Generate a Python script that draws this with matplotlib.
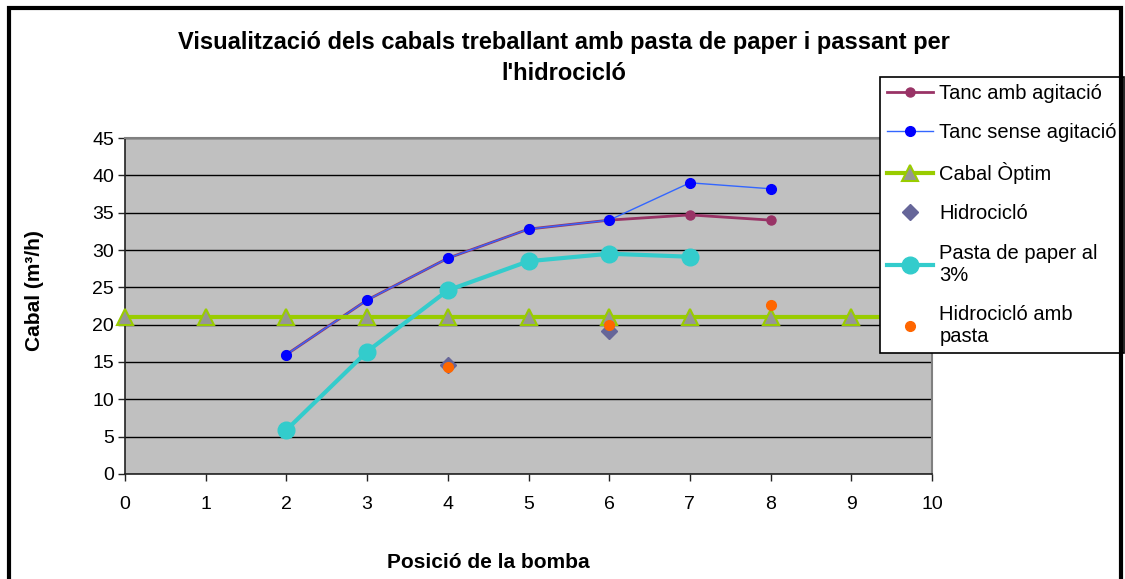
import matplotlib
matplotlib.use("Agg")
import matplotlib.pyplot as plt
from matplotlib.patches import Rectangle

plt.rcParams['font.family'] = ['Liberation Sans', 'DejaVu Sans']

# Pump position (x) and flow in m3/h (y)
x_tanc = [2, 3, 4, 5, 6, 7, 8]
tanc_amb_agitacio = [16.0, 23.3, 28.9, 32.8, 34.0, 34.7, 34.0]
tanc_sense_agitacio = [16.0, 23.3, 28.9, 32.8, 34.0, 39.0, 38.2]

x_optim = [0, 1, 2, 3, 4, 5, 6, 7, 8, 9, 10]
cabal_optim = [21] * len(x_optim)

x_hidro = [4, 6]
hidrociclo = [14.6, 19.1]

x_pasta = [2, 3, 4, 5, 6, 7]
pasta_paper = [5.9, 16.4, 24.6, 28.5, 29.5, 29.1]

x_hidro_pasta = [4, 6, 8]
hidrociclo_pasta = [14.3, 19.9, 22.7]

x_ticks = list(range(0, 11))
y_ticks = list(range(0, 50, 5))

W, H = 1125, 579
fig = plt.figure(figsize=(W / 100, H / 100), dpi=100)
fig.patch.set_facecolor('white')

# outer chart frame
fig.patches.append(Rectangle((9 / W, -0.1), (1121 - 9) / W, 1.1 - 8.5 / H,
                             transform=fig.transFigure, fill=False,
                             edgecolor='black', linewidth=3, zorder=0))

ax = fig.add_axes([125 / W, 1 - 474 / H, (932 - 125) / W, (474 - 138) / H])
ax.set_facecolor('#c0c0c0')
ax.set_xlim(0, 10)
ax.set_ylim(0, 45)
ax.set_xticks(x_ticks)
ax.set_yticks(y_ticks)
ax.yaxis.grid(True, color='black', linewidth=1)
ax.set_axisbelow(True)
for side in ('top', 'right'):
    ax.spines[side].set_color('#808080')
    ax.spines[side].set_linewidth(1.5)
for side in ('left', 'bottom'):
    ax.spines[side].set_color('#222222')
    ax.spines[side].set_linewidth(1.2)
ax.tick_params(axis='y', direction='out', length=5, width=1, pad=3,
               labelsize=14, color='#222222')
ax.tick_params(axis='x', direction='out', length=5, width=1, pad=11,
               labelsize=14, color='#222222')

ax.plot(x_tanc, tanc_amb_agitacio, color='#993366', linewidth=2,
        marker='o', markersize=6.5, markerfacecolor='#993366',
        markeredgecolor='#993366', label='Tanc amb agitació', zorder=3)
ax.plot(x_tanc, tanc_sense_agitacio, color='#3366ff', linewidth=1,
        marker='o', markersize=7, markerfacecolor='#0000ff',
        markeredgecolor='#0000ff', label='Tanc sense agitació', zorder=4)
ax.plot(x_optim, cabal_optim, color='#99cc00', linewidth=3,
        marker='^', markersize=12, markerfacecolor='#969696',
        markeredgecolor='#99cc00', markeredgewidth=1.5,
        label='Cabal Òptim', zorder=5, clip_on=False)
ax.plot(x_hidro, hidrociclo, linestyle='none', marker='D', markersize=8,
        markerfacecolor='#666699', markeredgecolor='#666699',
        label='Hidrocicló', zorder=6)
ax.plot(x_pasta, pasta_paper, color='#33cccc', linewidth=3,
        marker='o', markersize=12, markerfacecolor='#33cccc',
        markeredgecolor='#33cccc', label='Pasta de paper al\n3%', zorder=7)
ax.plot(x_hidro_pasta, hidrociclo_pasta, linestyle='none', marker='o',
        markersize=7, markerfacecolor='#ff6600', markeredgecolor='#ff6600',
        label='Hidrocicló amb\npasta', zorder=8)

fig.text(564 / W, 1 - 58 / H,
         "Visualització dels cabals treballant amb pasta de paper i passant per\nl'hidrocicló",
         ha='center', va='center', fontsize=17, fontweight='bold',
         linespacing=1.45)
fig.text(34 / W, 1 - 291 / H, 'Cabal (m³/h)', rotation=90, ha='center',
         va='center', fontsize=15, fontweight='bold')
fig.text(488 / W, 1 - 563 / H, 'Posició de la bomba', ha='center',
         va='center', fontsize=15, fontweight='bold')

leg = ax.legend(loc='upper left', bbox_to_anchor=(880 / W, 1 - 77 / H),
                bbox_transform=fig.transFigure, borderaxespad=0,
                fontsize=14.5, frameon=True, fancybox=False, framealpha=1,
                edgecolor='black', handlelength=2.3, handletextpad=0.3,
                labelspacing=1.0, borderpad=0.35)
leg.get_frame().set_linewidth(1.2)
leg.set_zorder(20)

fig.savefig('out.png', dpi=100)
